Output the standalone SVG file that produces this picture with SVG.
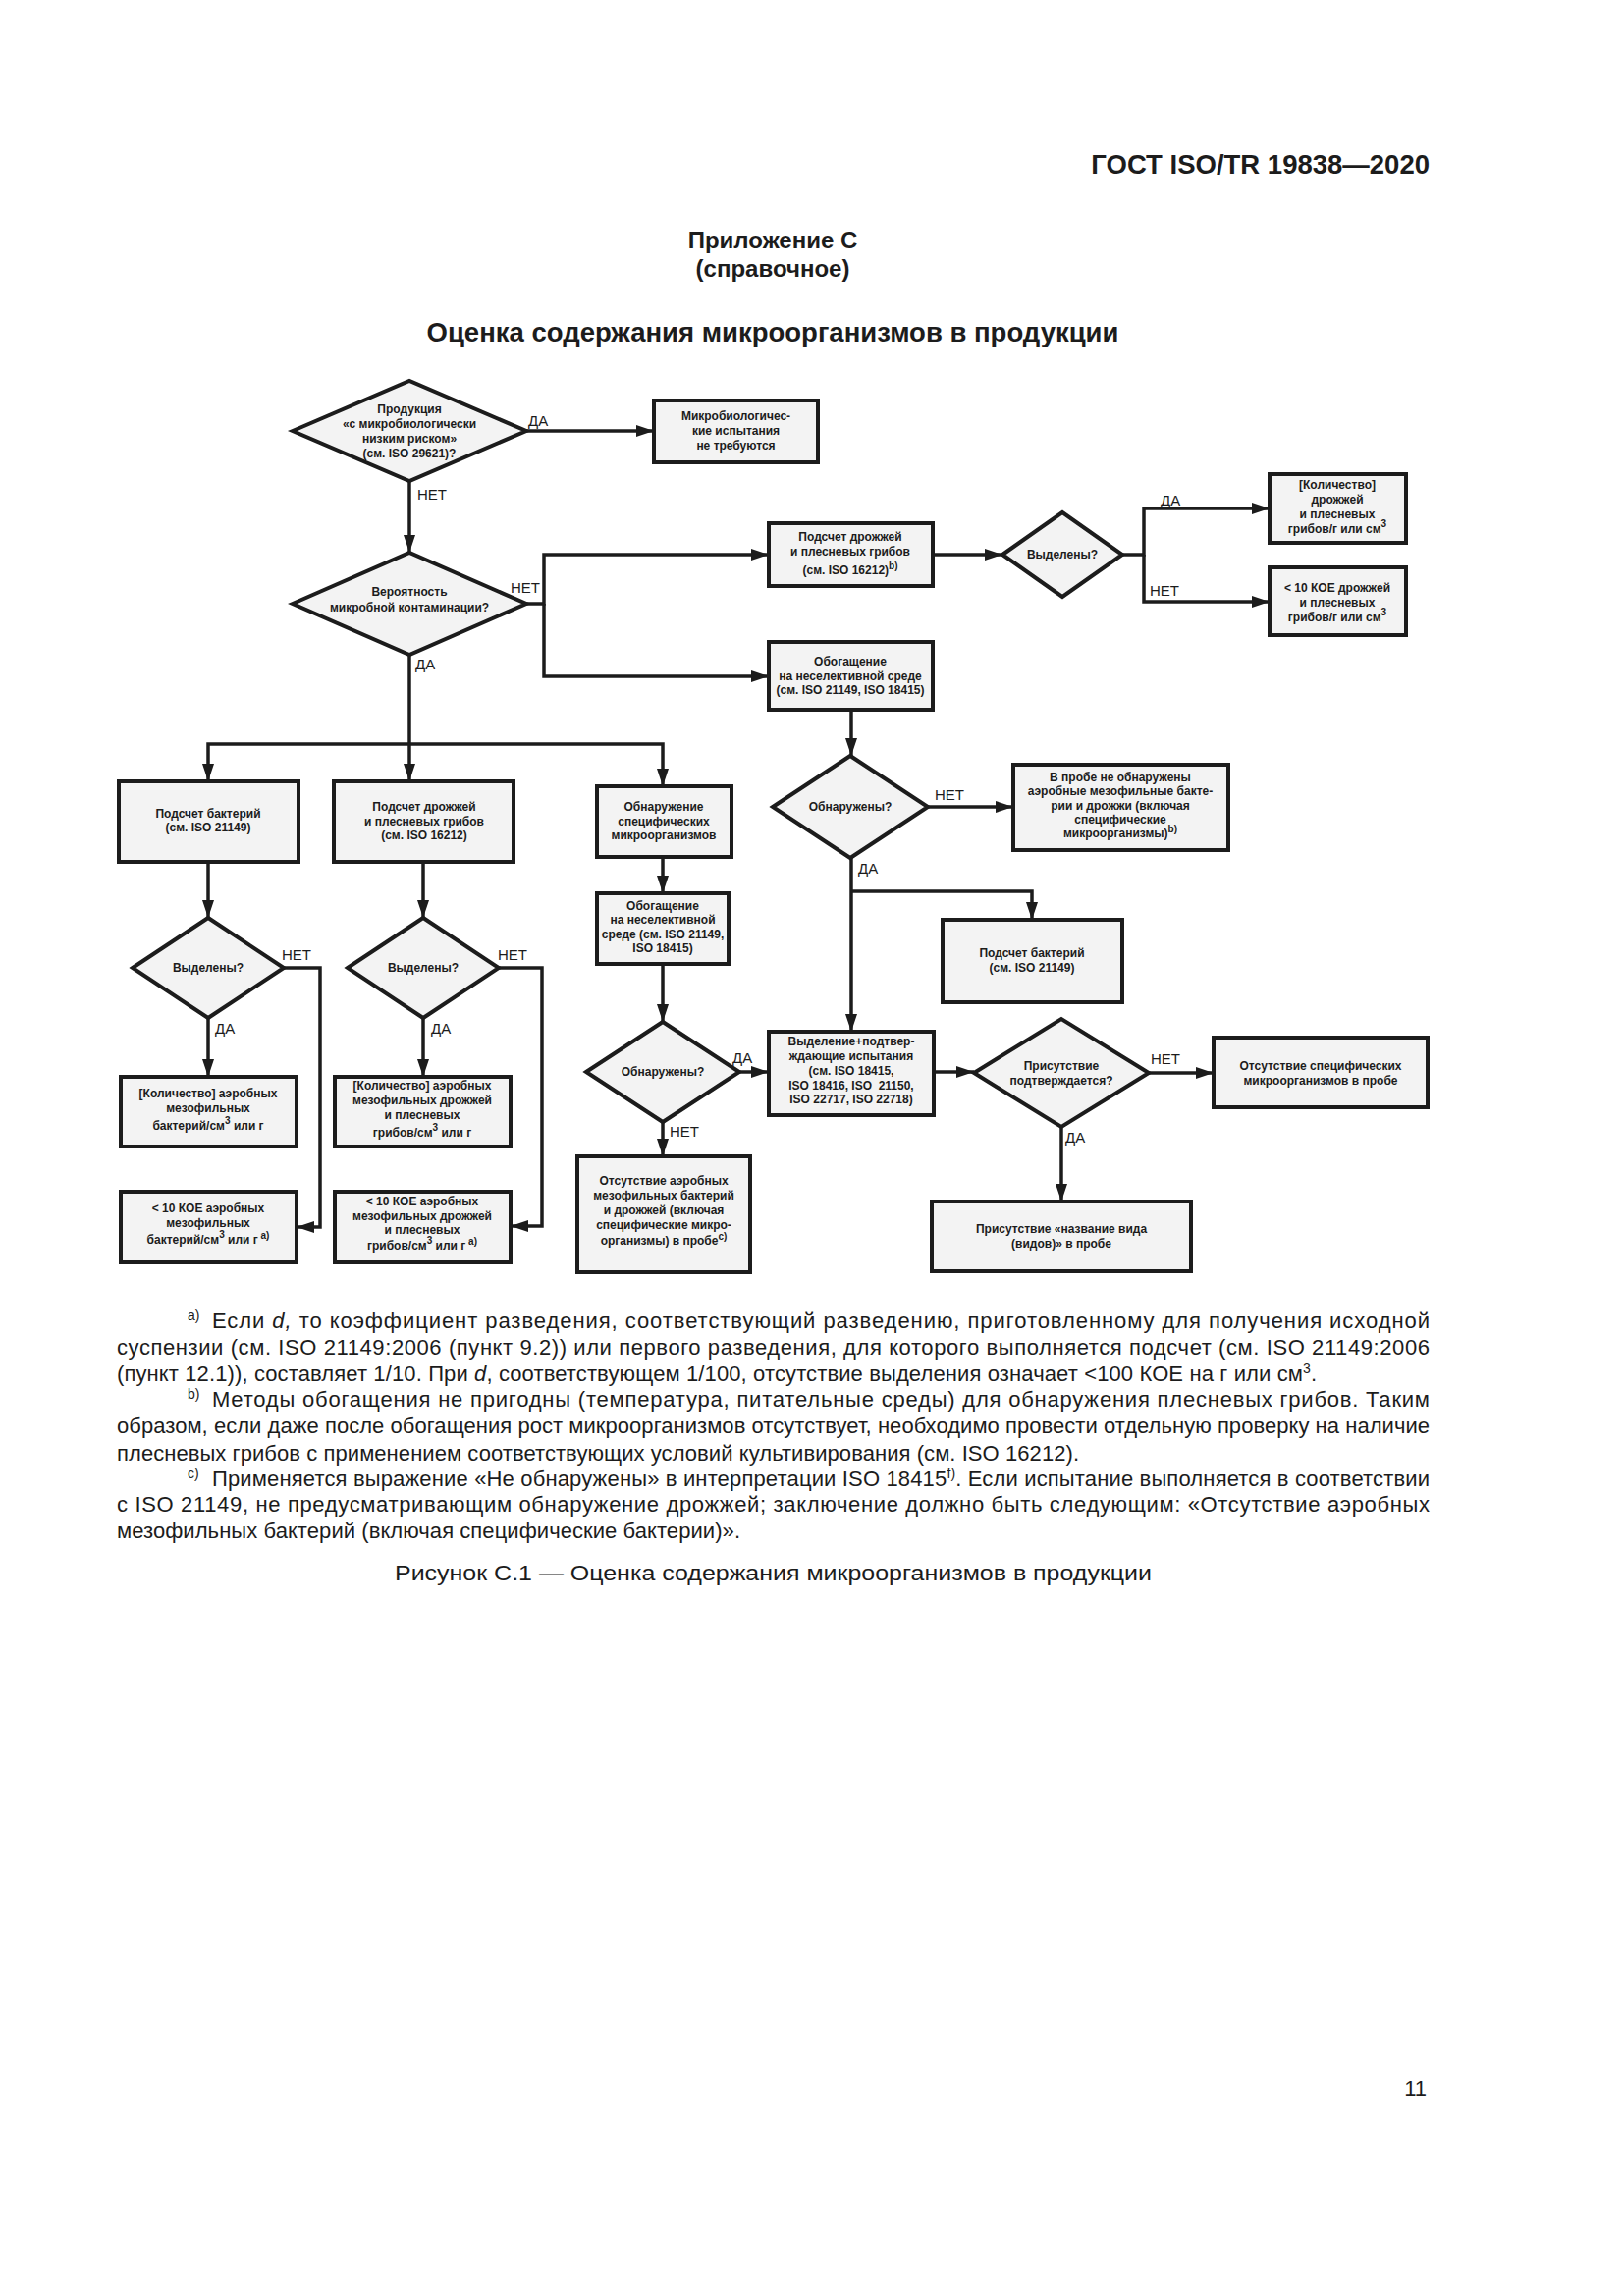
<svg xmlns="http://www.w3.org/2000/svg" width="1654" height="2339" viewBox="0 0 1654 2339">
<style>
.bg{fill:#ffffff}
.box{fill:#f3f3f3;stroke:#1c1c1c;stroke-width:4}
.dia{fill:#f3f3f3;stroke:#1c1c1c;stroke-width:4;stroke-linejoin:miter}
.conn{fill:none;stroke:#1c1c1c;stroke-width:3.5}
.t{font-family:"Liberation Sans",Arial,sans-serif;font-weight:bold;font-size:12px;text-anchor:middle;fill:#1c1c1c}
.lbl{font-family:"Liberation Sans",Arial,sans-serif;font-size:15px;fill:#1c1c1c}
.hdr{font-family:"Liberation Sans",Arial,sans-serif;font-weight:bold;fill:#1c1c1c}
.fn{font-family:"Liberation Sans",Arial,sans-serif;font-size:22px;fill:#1c1c1c}
.sup{font-size:14px}
.s8{font-size:10px}
</style>
<defs>
<marker id="ah" markerUnits="userSpaceOnUse" markerWidth="18" markerHeight="12" refX="18" refY="6" orient="auto">
<path d="M0,0 L18,6 L0,12 z" fill="#1c1c1c"/>
</marker>
</defs>
<rect class="bg" x="0" y="0" width="1654" height="2339"/>

<text class="hdr" x="1456" y="177" font-size="27.5" text-anchor="end">ГОСТ ISO/TR 19838—2020</text>
<text class="hdr" x="787" y="253" font-size="24" text-anchor="middle">Приложение С</text>
<text class="hdr" x="787" y="282" font-size="24" text-anchor="middle">(справочное)</text>
<text class="hdr" x="787" y="348" font-size="27.5" text-anchor="middle">Оценка содержания микроорганизмов в продукции</text>

<g id="connectors">
<path class="conn" d="M536,439 H666" marker-end="url(#ah)"/>
<path class="conn" d="M417,490 V563" marker-end="url(#ah)"/>
<path class="conn" d="M536,615 H554 V565 H783" marker-end="url(#ah)"/>
<path class="conn" d="M554,615 V689 H783" marker-end="url(#ah)"/>
<path class="conn" d="M950,565 H1021" marker-end="url(#ah)"/>
<path class="conn" d="M1143,565 H1165 V518 H1293" marker-end="url(#ah)"/>
<path class="conn" d="M1165,565 V613 H1293" marker-end="url(#ah)"/>
<path class="conn" d="M867,723 V770" marker-end="url(#ah)"/>
<path class="conn" d="M945,822 H1032" marker-end="url(#ah)"/>
<path class="conn" d="M867,874 V1051" marker-end="url(#ah)"/>
<path class="conn" d="M867,908 H1051 V937" marker-end="url(#ah)"/>
<path class="conn" d="M417,667 V796" marker-end="url(#ah)"/>
<path class="conn" d="M417,758 H212 V796" marker-end="url(#ah)"/>
<path class="conn" d="M417,758 H675 V801" marker-end="url(#ah)"/>
<path class="conn" d="M675,873 V910" marker-end="url(#ah)"/>
<path class="conn" d="M675,982 V1041" marker-end="url(#ah)"/>
<path class="conn" d="M753,1092 H783" marker-end="url(#ah)"/>
<path class="conn" d="M675,1143 V1178" marker-end="url(#ah)"/>
<path class="conn" d="M951,1092 H992" marker-end="url(#ah)"/>
<path class="conn" d="M1170,1093 H1236" marker-end="url(#ah)"/>
<path class="conn" d="M1081,1148 V1224" marker-end="url(#ah)"/>
<path class="conn" d="M212,878 V935" marker-end="url(#ah)"/>
<path class="conn" d="M212,1037 V1097" marker-end="url(#ah)"/>
<path class="conn" d="M289,986 H326 V1250 H302" marker-end="url(#ah)"/>
<path class="conn" d="M431,878 V935" marker-end="url(#ah)"/>
<path class="conn" d="M431,1037 V1097" marker-end="url(#ah)"/>
<path class="conn" d="M508,986 H552 V1249 H520" marker-end="url(#ah)"/>
<text class="lbl" x="538" y="434">ДА</text>
<text class="lbl" x="425" y="509">НЕТ</text>
<text class="lbl" x="520" y="604">НЕТ</text>
<text class="lbl" x="423" y="682">ДА</text>
<text class="lbl" x="1182" y="515">ДА</text>
<text class="lbl" x="1171" y="607">НЕТ</text>
<text class="lbl" x="952" y="815">НЕТ</text>
<text class="lbl" x="874" y="890">ДА</text>
<text class="lbl" x="746" y="1083">ДА</text>
<text class="lbl" x="682" y="1158">НЕТ</text>
<text class="lbl" x="1172" y="1084">НЕТ</text>
<text class="lbl" x="1085" y="1164">ДА</text>
<text class="lbl" x="287" y="978">НЕТ</text>
<text class="lbl" x="219" y="1053">ДА</text>
<text class="lbl" x="507" y="978">НЕТ</text>
<text class="lbl" x="439" y="1053">ДА</text>
</g>

<g id="d1">
<polygon class="dia" points="298,439 417,388 536,439 417,490"/>
<text class="t" x="417" y="421">Продукция</text>
<text class="t" x="417" y="436">«с микробиологически</text>
<text class="t" x="417" y="451">низким риском»</text>
<text class="t" x="417" y="466">(см. ISO 29621)?</text>
</g>
<g id="b1">
<rect class="box" x="666" y="408" width="167" height="63"/>
<text class="t" x="749.5" y="428">Микробиологичес-</text>
<text class="t" x="749.5" y="443">кие испытания</text>
<text class="t" x="749.5" y="458">не требуются</text>
</g>
<g id="d2">
<polygon class="dia" points="298,615 417,563 536,615 417,667"/>
<text class="t" x="417" y="607">Вероятность</text>
<text class="t" x="417" y="623">микробной контаминации?</text>
</g>
<g id="b2">
<rect class="box" x="783" y="533" width="167" height="64"/>
<text class="t" x="866" y="551">Подсчет дрожжей</text>
<text class="t" x="866" y="566">и плесневых грибов</text>
<text class="t" x="866" y="585">(см. ISO 16212)<tspan class="s8" dy="-5">b)</tspan></text>
</g>
<g id="d3">
<polygon class="dia" points="1021,565 1082,522 1143,565 1082,608"/>
<text class="t" x="1082" y="569">Выделены?</text>
</g>
<g id="b4">
<rect class="box" x="1293" y="483" width="139" height="70"/>
<text class="t" x="1362" y="498">[Количество]</text>
<text class="t" x="1362" y="513">дрожжей</text>
<text class="t" x="1362" y="528">и плесневых</text>
<text class="t" x="1362" y="543">грибов/г или см<tspan class="s8" dy="-6">3</tspan></text>
</g>
<g id="b5">
<rect class="box" x="1293" y="578" width="139" height="69"/>
<text class="t" x="1362" y="603">&lt; 10 КОЕ дрожжей</text>
<text class="t" x="1362" y="618">и плесневых</text>
<text class="t" x="1362" y="633">грибов/г или см<tspan class="s8" dy="-6">3</tspan></text>
</g>
<g id="b3">
<rect class="box" x="783" y="654" width="167" height="69"/>
<text class="t" x="866" y="678">Обогащение</text>
<text class="t" x="866" y="693">на неселективной среде</text>
<text class="t" x="866" y="707">(см. ISO 21149, ISO 18415)</text>
</g>
<g id="d4">
<polygon class="dia" points="787,822 866,770 945,822 866,874"/>
<text class="t" x="866" y="826">Обнаружены?</text>
</g>
<g id="b6">
<rect class="box" x="1032" y="779" width="219" height="87"/>
<text class="t" x="1141" y="796">В пробе не обнаружены</text>
<text class="t" x="1141" y="810">аэробные мезофильные бакте-</text>
<text class="t" x="1141" y="825">рии и дрожжи (включая</text>
<text class="t" x="1141" y="839">специфические</text>
<text class="t" x="1141" y="853">микроорганизмы)<tspan class="s8" dy="-5">b)</tspan></text>
</g>
<g id="b7">
<rect class="box" x="960" y="937" width="183" height="84"/>
<text class="t" x="1051" y="975">Подсчет бактерий</text>
<text class="t" x="1051" y="990">(см. ISO 21149)</text>
</g>
<g id="b9">
<rect class="box" x="121" y="796" width="183" height="82"/>
<text class="t" x="212" y="833">Подсчет бактерий</text>
<text class="t" x="212" y="847">(см. ISO 21149)</text>
</g>
<g id="b10">
<rect class="box" x="340" y="796" width="183" height="82"/>
<text class="t" x="432" y="826">Подсчет дрожжей</text>
<text class="t" x="432" y="841">и плесневых грибов</text>
<text class="t" x="432" y="855">(см. ISO 16212)</text>
</g>
<g id="b11">
<rect class="box" x="608" y="801" width="137" height="72"/>
<text class="t" x="676" y="826">Обнаружение</text>
<text class="t" x="676" y="841">специфических</text>
<text class="t" x="676" y="855">микроорганизмов</text>
</g>
<g id="b12">
<rect class="box" x="608" y="910" width="134" height="72"/>
<text class="t" x="675" y="927">Обогащение</text>
<text class="t" x="675" y="941">на неселективной</text>
<text class="t" x="675" y="956">среде (см. ISO 21149,</text>
<text class="t" x="675" y="970">ISO 18415)</text>
</g>
<g id="d5">
<polygon class="dia" points="597,1092 675,1041 753,1092 675,1143"/>
<text class="t" x="675" y="1096">Обнаружены?</text>
</g>
<g id="b13">
<rect class="box" x="588" y="1178" width="176" height="118"/>
<text class="t" x="676" y="1207">Отсутствие аэробных</text>
<text class="t" x="676" y="1222">мезофильных бактерий</text>
<text class="t" x="676" y="1237">и дрожжей (включая</text>
<text class="t" x="676" y="1252">специфические микро-</text>
<text class="t" x="676" y="1268">организмы) в пробе<tspan class="s8" dy="-5">c)</tspan></text>
</g>
<g id="b8">
<rect class="box" x="783" y="1051" width="168" height="85"/>
<text class="t" x="867" y="1065">Выделение+подтвер-</text>
<text class="t" x="867" y="1080">ждающие испытания</text>
<text class="t" x="867" y="1095">(см. ISO 18415,</text>
<text class="t" x="867" y="1110" xml:space="preserve">ISO 18416, ISO  21150,</text>
<text class="t" x="867" y="1124">ISO 22717, ISO 22718)</text>
</g>
<g id="d6">
<polygon class="dia" points="992,1093 1081,1038 1170,1093 1081,1148"/>
<text class="t" x="1081" y="1090">Присутствие</text>
<text class="t" x="1081" y="1105">подтверждается?</text>
</g>
<g id="b14">
<rect class="box" x="1236" y="1057" width="218" height="71"/>
<text class="t" x="1345" y="1090">Отсутствие специфических</text>
<text class="t" x="1345" y="1105">микроорганизмов в пробе</text>
</g>
<g id="b15">
<rect class="box" x="949" y="1224" width="264" height="71"/>
<text class="t" x="1081" y="1256">Присутствие «название вида</text>
<text class="t" x="1081" y="1271">(видов)» в пробе</text>
</g>
<g id="d7">
<polygon class="dia" points="135,986 212,935 289,986 212,1037"/>
<text class="t" x="212" y="990">Выделены?</text>
</g>
<g id="b16">
<rect class="box" x="123" y="1097" width="179" height="71"/>
<text class="t" x="212" y="1118">[Количество] аэробных</text>
<text class="t" x="212" y="1133">мезофильных</text>
<text class="t" x="212" y="1151">бактерий/см<tspan class="s8" dy="-6">3</tspan><tspan dy="6"> или г</tspan></text>
</g>
<g id="b17">
<rect class="box" x="123" y="1214" width="179" height="72"/>
<text class="t" x="212" y="1235">&lt; 10 КОЕ аэробных</text>
<text class="t" x="212" y="1250">мезофильных</text>
<text class="t" x="212" y="1267">бактерий/см<tspan class="s8" dy="-6">3</tspan><tspan dy="6"> или г</tspan><tspan class="s8" dy="-5"> a)</tspan></text>
</g>
<g id="d8">
<polygon class="dia" points="354,986 431,935 508,986 431,1037"/>
<text class="t" x="431" y="990">Выделены?</text>
</g>
<g id="b19">
<rect class="box" x="341" y="1097" width="179" height="71"/>
<text class="t" x="430" y="1110">[Количество] аэробных</text>
<text class="t" x="430" y="1125">мезофильных дрожжей</text>
<text class="t" x="430" y="1140">и плесневых</text>
<text class="t" x="430" y="1158">грибов/см<tspan class="s8" dy="-6">3</tspan><tspan dy="6"> или г</tspan></text>
</g>
<g id="b18">
<rect class="box" x="341" y="1214" width="179" height="72"/>
<text class="t" x="430" y="1228">&lt; 10 КОЕ аэробных</text>
<text class="t" x="430" y="1243">мезофильных дрожжей</text>
<text class="t" x="430" y="1257">и плесневых</text>
<text class="t" x="430" y="1273">грибов/см<tspan class="s8" dy="-6">3</tspan><tspan dy="6"> или г</tspan><tspan class="s8" dy="-5"> a)</tspan></text>
</g>

<g id="footnotes">
<text class="fn sup" x="191" y="1345">a)</text>
<text class="fn" x="216" y="1353" textLength="1240" lengthAdjust="spacing">Если <tspan font-style="italic">d,</tspan> то коэффициент разведения, соответствующий разведению, приготовленному для получения исходной</text>
<text class="fn" x="119" y="1380" textLength="1337" lengthAdjust="spacing">суспензии (см. ISO 21149:2006 (пункт 9.2)) или первого разведения, для которого выполняется подсчет (см. ISO 21149:2006</text>
<text class="fn" x="119" y="1407" textLength="1222" lengthAdjust="spacing">(пункт 12.1)), составляет 1/10. При <tspan font-style="italic">d</tspan>, соответствующем 1/100, отсутствие выделения означает &lt;100 КОЕ на г или см<tspan class="sup" dy="-8">3</tspan><tspan dy="8">.</tspan></text>
<text class="fn sup" x="191" y="1425">b)</text>
<text class="fn" x="216" y="1433" textLength="1240" lengthAdjust="spacing">Методы обогащения не пригодны (температура, питательные среды) для обнаружения плесневых грибов. Таким</text>
<text class="fn" x="119" y="1460" textLength="1337" lengthAdjust="spacing">образом, если даже после обогащения рост микроорганизмов отсутствует, необходимо провести отдельную проверку на наличие</text>
<text class="fn" x="119" y="1488" textLength="980" lengthAdjust="spacing">плесневых грибов с применением соответствующих условий культивирования (см. ISO 16212).</text>
<text class="fn sup" x="191" y="1506">c)</text>
<text class="fn" x="216" y="1514" textLength="1240" lengthAdjust="spacing">Применяется выражение «Не обнаружены» в интерпретации ISO 18415<tspan class="sup" dy="-8">f)</tspan><tspan dy="8">. Если испытание выполняется в соответствии</tspan></text>
<text class="fn" x="119" y="1540" textLength="1337" lengthAdjust="spacing">с ISO 21149, не предусматривающим обнаружение дрожжей; заключение должно быть следующим: «Отсутствие аэробных</text>
<text class="fn" x="119" y="1567" textLength="635" lengthAdjust="spacing">мезофильных бактерий (включая специфические бактерии)».</text>
<text class="fn" x="402" y="1610" font-size="25" textLength="771" lengthAdjust="spacingAndGlyphs">Рисунок С.1 — Оценка содержания микроорганизмов в продукции</text>
</g>
<text class="fn" x="1453" y="2135" font-size="21" text-anchor="end">11</text>
</svg>
